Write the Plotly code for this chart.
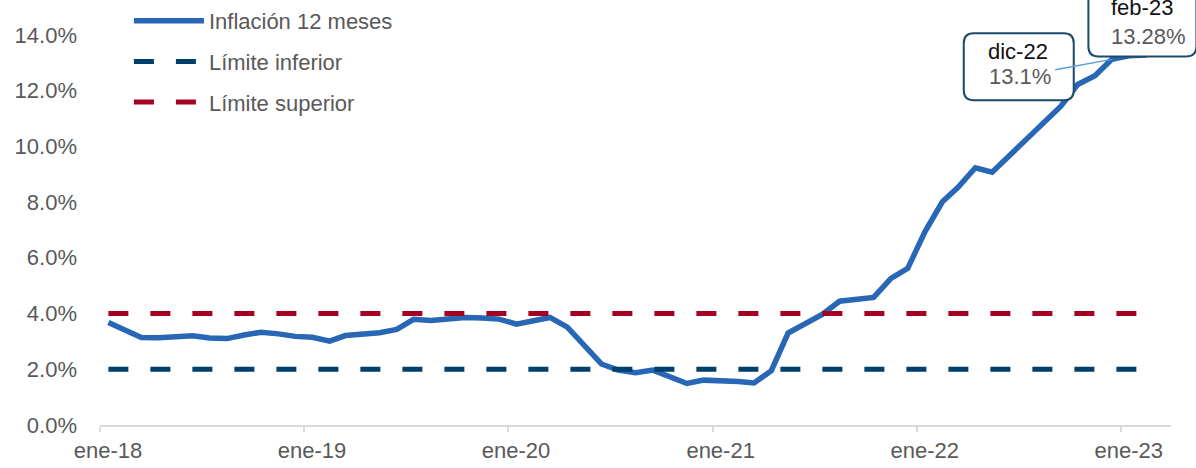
import plotly.graph_objects as go
import pandas as pd

# ---- data ----
meses = pd.date_range("2018-01-01", "2023-02-01", freq="MS")
inflacion = [3.68, 3.37, 3.14, 3.13, 3.16, 3.20, 3.12, 3.10, 3.23, 3.33, 3.27, 3.18,
             3.15, 3.01, 3.21, 3.25, 3.31, 3.43, 3.79, 3.75, 3.82, 3.86, 3.84, 3.80,
             3.62, 3.72, 3.86, 3.51, 2.85, 2.19, 1.97, 1.88, 1.97, 1.75, 1.49, 1.61,
             1.60, 1.56, 1.51, 1.95, 3.30, 3.63, 3.97, 4.44, 4.51, 4.58, 5.26, 5.62,
             6.94, 8.01, 8.53, 9.23, 9.07, 9.67, 10.21, 10.84, 11.44, 12.22, 12.53, 13.12,
             13.25, 13.28]
limite_inferior = [2.0] * len(inflacion)
limite_superior = [4.0] * len(inflacion)
tick_fechas = ["2018-01-01", "2019-01-01", "2020-01-01", "2021-01-01", "2022-01-01", "2023-01-01"]
tick_textos = ["ene-18", "ene-19", "ene-20", "ene-21", "ene-22", "ene-23"]
y_ticks = [0, 2, 4, 6, 8, 10, 12, 14]

# points centred in each month (category style)
x_mid = meses + pd.Timedelta(days=15)
x_start = pd.Timestamp("2018-01-01")
x_end = pd.Timestamp("2023-04-01")

FONT = "Liberation Sans, Arial, sans-serif"
GRAY = "#595959"
BLUE = "#2767B5"
NAVY = "#003E6B"
RED = "#A50021"
BOX = "#1B4A6B"

fig = go.Figure()
fig.add_trace(go.Scatter(x=x_mid, y=inflacion, mode="lines", name="Inflación 12 meses",
                         line=dict(color=BLUE, width=5.5), legendgroup="a"))
fig.add_trace(go.Scatter(x=x_mid, y=limite_inferior, mode="lines", name="Límite inferior",
                         line=dict(color=NAVY, width=5, dash="20px,22px"), legendgroup="b"))
fig.add_trace(go.Scatter(x=x_mid, y=limite_superior, mode="lines", name="Límite superior",
                         line=dict(color=RED, width=5, dash="20px,22px"), legendgroup="c"))

Y_MAX = 425 / 28.0

# annotation boxes (rounded), anchored at data points
def rrect(x0, y0, x1, y1, r):
    return (f"M{x0+r},{y0} L{x1-r},{y0} Q{x1},{y0} {x1},{y0+r} L{x1},{y1-r} Q{x1},{y1} {x1-r},{y1} "
            f"L{x0+r},{y1} Q{x0},{y1} {x0},{y1-r} L{x0},{y0+r} Q{x0},{y0} {x0+r},{y0} Z")

def paper_x(t):
    return (t - x_start) / (x_end - x_start)

i_dic = 59
i_feb = 61
fig.add_shape(type="path", xref="paper", yref="y", xsizemode="pixel", ysizemode="pixel",
              xanchor=paper_x(x_mid[i_dic]), yanchor=inflacion[i_dic],
              path=rrect(-148, -41, -38, 26, 10), line=dict(color=BOX, width=2),
              fillcolor="white", layer="above")
fig.add_shape(type="path", xref="paper", yref="paper", xsizemode="pixel", ysizemode="pixel",
              xanchor=paper_x(x_mid[i_feb]), yanchor=inflacion[i_feb] / Y_MAX,
              path=rrect(-58, -1.5, 50, 66, 10), line=dict(color=BOX, width=2),
              fillcolor="white", layer="above")

fig.add_annotation(x=x_mid[i_dic], y=inflacion[i_dic], text="13.1%", showarrow=True,
                   ax=-92, ay=17, arrowhead=0, arrowwidth=1.5, arrowcolor="#5B9BD5",
                   standoff=0, borderpad=4, font=dict(family=FONT, size=22, color=GRAY))
fig.add_annotation(x=x_mid[i_dic], y=inflacion[i_dic], text="dic-22", showarrow=False,
                   xshift=-94, yshift=8, font=dict(family=FONT, size=22, color="#111111"))
fig.add_annotation(x=x_mid[i_feb], y=inflacion[i_feb], text="13.28%", showarrow=False,
                   xshift=2, yshift=18, font=dict(family=FONT, size=22, color=GRAY))
fig.add_annotation(x=x_mid[i_feb], y=inflacion[i_feb], text="feb-23", showarrow=False,
                   xshift=-4, yshift=47, font=dict(family=FONT, size=22, color="#111111"))

fig.update_layout(
    width=1196, height=468,
    margin=dict(l=100, r=25, t=0, b=43),
    paper_bgcolor="white", plot_bgcolor="white",
    font=dict(family=FONT, size=22, color=GRAY),
    showlegend=True,
    legend=dict(x=0.027, y=1.005, xanchor="left", yanchor="top", bgcolor="rgba(0,0,0,0)",
                traceorder="grouped", tracegroupgap=9, itemwidth=70,
                font=dict(family=FONT, size=22, color=GRAY)),
    xaxis=dict(type="date", range=[x_start, x_end], tickvals=tick_fechas, ticktext=tick_textos,
               ticks="outside", ticklen=5, tickcolor="#D9D9D9", tickwidth=1.5,
               showline=True, linecolor="#D9D9D9", linewidth=1.5, showgrid=False,
               zeroline=False, ticklabelshift=8, tickfont=dict(size=22, color=GRAY)),
    yaxis=dict(range=[0, Y_MAX], tickvals=y_ticks, ticktext=[f"{v:.1f}%" for v in y_ticks],
               showgrid=False, zeroline=False, showline=False, ticks="",
               ticklabelstandoff=22, tickfont=dict(size=22, color=GRAY)),
)

fig.write_html("out.html", config={"displayModeBar": False},
               post_script="document.body.style.margin='0';document.body.style.padding='0';")
